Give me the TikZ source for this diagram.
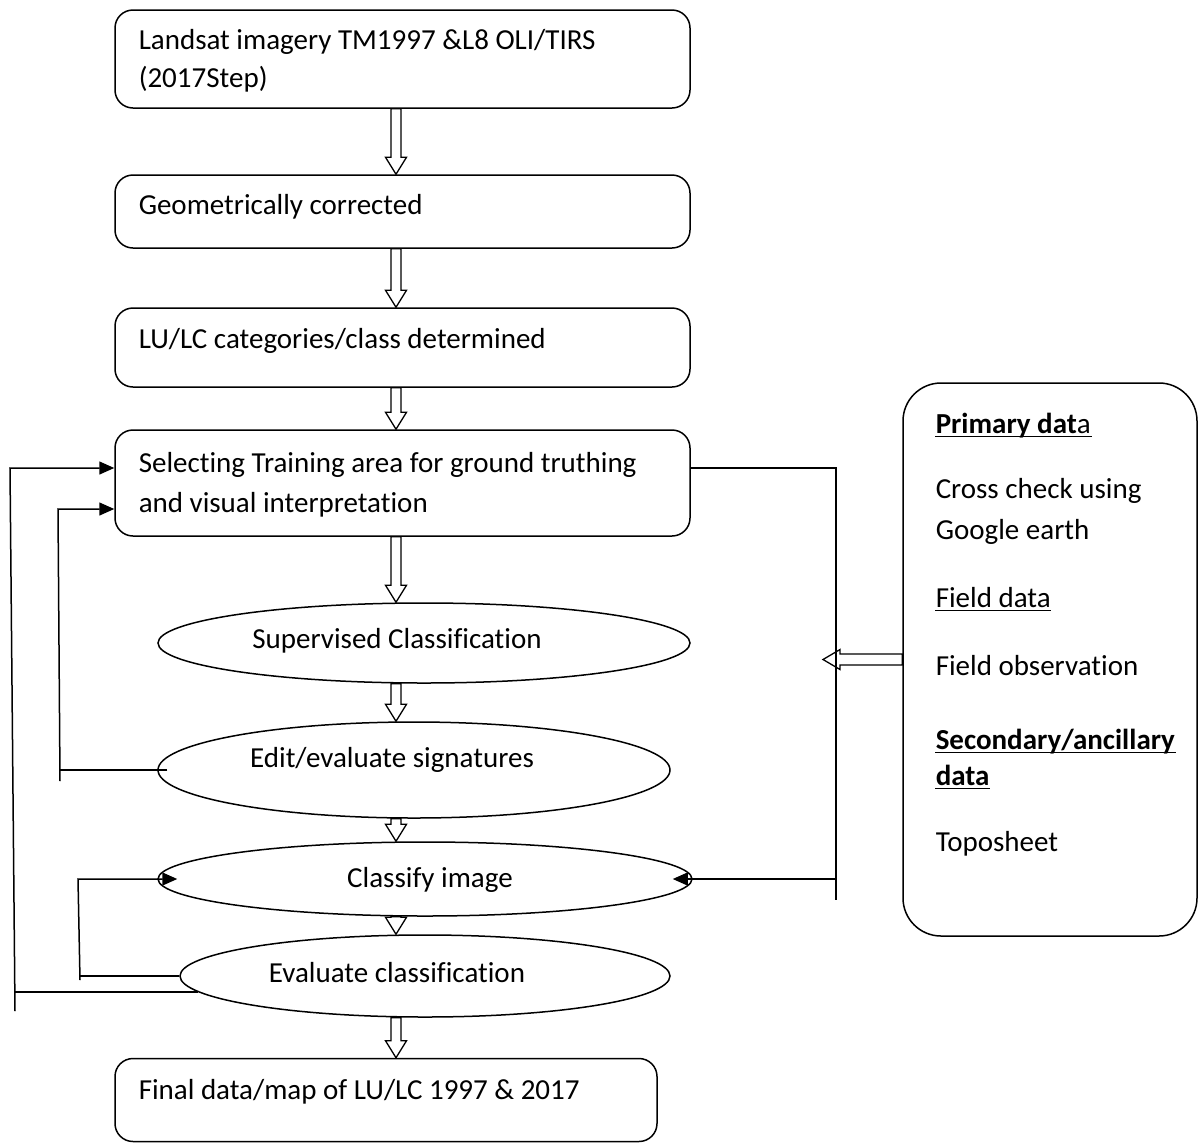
\documentclass[tikz,border=0pt]{standalone}
\usepackage{fontspec}
\setmainfont{Carlito}[Ligatures=NoCommon]
\usetikzlibrary{shapes.geometric,arrows.meta,calc}
\newcommand{\vhollow}[2]{\draw[harrow] ($#1+(-5,0)$) -- ($#2+(-5,-17)$) -- ($#2+(-10.5,-17)$) -- #2 -- ($#2+(10.5,-17)$) -- ($#2+(5,-17)$) -- ($#1+(5,0)$) -- cycle;}
\newcommand{\hhollow}[2]{\draw[harrow] ($#1+(0,-5.5)$) -- ($#2+(17,-5.5)$) -- ($#2+(17,-10)$) -- #2 -- ($#2+(17,10)$) -- ($#2+(17,5.5)$) -- ($#1+(0,5.5)$) -- cycle;}
\newcommand{\ulnode}[1]{\draw[line width=1.4pt] ($(#1.base west)+(0,3.5)$) -- ($(#1.base east)+(0,3.5)$);}
\begin{document}
\begin{tikzpicture}[x=1pt,y=-1pt,
  line width=1.5pt,
  every node/.style={font=\fontsize{29}{37}\selectfont},
  rbox/.style={draw, rounded corners=18pt, inner sep=0pt},
  ebox/.style={draw, ellipse, inner sep=0pt},
  txt/.style={inner sep=0pt, text height=21pt, text depth=7pt, anchor=west},
  ctxt/.style={inner sep=0pt, text height=21pt, text depth=7pt, anchor=center},
  harrow/.style={fill=white, line width=1.3pt, line join=miter},
  fb/.style={line width=1.5pt},
  fba/.style={line width=1.5pt, -{Triangle[length=15pt,width=13pt]}}]
\useasboundingbox (0,0) rectangle (1199,1144);

% boxes
\node[rbox, minimum width=575pt, minimum height=98pt] (b1) at (402.5,59) {};
\node[rbox, minimum width=575pt, minimum height=73pt] (b2) at (402.5,211.5) {};
\node[rbox, minimum width=575pt, minimum height=79pt] (b3) at (402.5,347.5) {};
\node[rbox, minimum width=575pt, minimum height=106pt] (b4) at (402.5,483) {};
\node[rbox, minimum width=542pt, minimum height=83pt] (b5) at (386,1100) {};
\node[rbox, rounded corners=38pt, minimum width=294pt, minimum height=553pt] (rb) at (1050,659.5) {};

% ellipses
\node[ebox, minimum width=532pt, minimum height=80pt] (e1) at (424,643) {};
\node[ebox, minimum width=512pt, minimum height=96pt] (e2) at (414,770) {};
\node[ebox, minimum width=534pt, minimum height=74pt] (e3) at (425,879) {};
\node[ebox, minimum width=490pt, minimum height=82pt] (e4) at (425,976) {};

% texts
\node[txt] (t1a) at (138,42) {Landsat imagery TM1997 \&L8 OLI/TIRS};
\node[txt] (t1b) at (138,80) {(2017Step)};
\node[txt] (t2) at (138,207) {Geometrically corrected};
\node[txt] (t3) at (138,341) {LU/LC categories/class determined};
\node[txt] (t4a) at (138,465) {Selecting Training area for ground truthing};
\node[txt] (t4b) at (138,505) {and visual interpretation};
\node[txt] (t5) at (138,1092) {Final data/map of LU/LC 1997 \& 2017};
\node[ctxt] (te1) at (397,641) {Supervised Classification};
\node[ctxt] (te2) at (392,760) {Edit/evaluate signatures};
\node[ctxt] (te3) at (430,880) {Classify image};
\node[ctxt] (te4) at (397,975) {Evaluate classification};

\node[txt] (r1) at (935,426) {\textbf{Primary dat}a};
\node[txt] (r2) at (935,491) {Cross check using};
\node[txt] (r3) at (935,532) {Google earth};
\node[txt] (r4) at (935,600) {Field data};
\node[txt] (r5) at (935,668) {Field observation};
\node[txt] (r6) at (935,742) {\textbf{Secondary/ancillary}};
\node[txt] (r7) at (935,778) {\textbf{data}};
\node[txt] (r8) at (935,844) {Toposheet};
\ulnode{r1}
\ulnode{r4}
\ulnode{r6}
\ulnode{r7}

% hollow down arrows
\coordinate (ax) at (396,0);
\vhollow{(ax |- b1.south)}{(ax |- b2.north)}
\vhollow{(ax |- b2.south)}{(ax |- b3.north)}
\vhollow{(ax |- b3.south)}{(ax |- b4.north)}
\vhollow{(ax |- b4.south)}{(ax |- e1.north)}
\vhollow{(ax |- e1.south)}{(ax |- e2.north)}
\vhollow{(ax |- e2.south)}{(ax |- e3.north)}
\vhollow{(ax |- e3.south)}{(ax |- e4.north)}
\vhollow{(ax |- e4.south)}{(ax |- b5.north)}

% hollow left arrow from data box
\coordinate (hv) at (823,0);
\hhollow{(rb.west)}{(hv |- rb.west)}

% outer feedback loop
\coordinate (ob) at (15,1011);
\coordinate (ot) at (10,468);
\draw[fba] (ob) -- (ot) -- (ot -| b4.west);
\draw[fb] (e4.184) -- (e4.184 -| ob);

% inner feedback loop (signatures)
\coordinate (ib) at (60,781);
\coordinate (it) at (58,509);
\draw[fba] (ib) -- (it) -- (it -| b4.west);
\draw[fb] ($(e2.west)+(10,0)$) -- (e2.west -| ib);

% classify loop
\coordinate (cb) at (80,980);
\coordinate (ct) at (78,0);
\draw[fb] (e4.west) -- (e4.west -| cb);
\draw[fba] (cb) -- (ct |- e3.west) -- ($(e3.west)+(20,0)$);

% right loop
\coordinate (rv) at (836,900);
\draw[fb] (b4.east |- ot) -- (rv |- ot) -- (rv);
\draw[fba] (rv |- e3.east) -- ($(e3.east)+(-20,0)$);
\end{tikzpicture}
\end{document}
